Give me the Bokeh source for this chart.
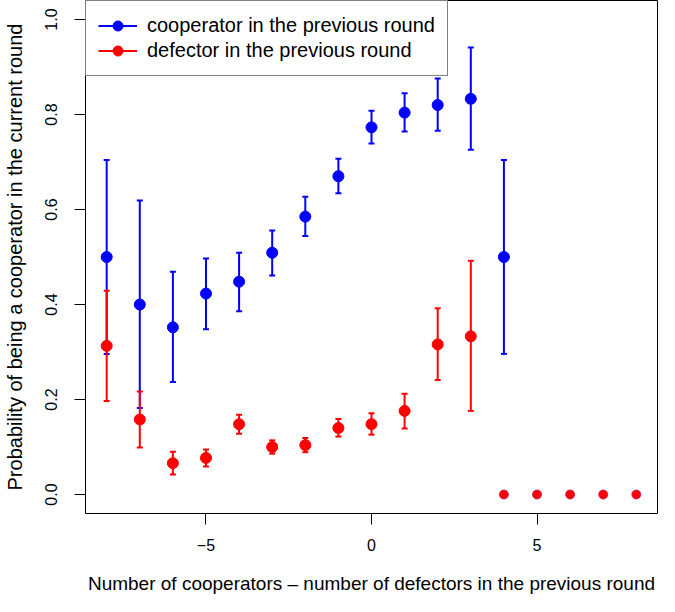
from bokeh.plotting import figure
from bokeh.models import (ColumnDataSource, Whisker, TeeHead, Legend, LegendItem,
                          FixedTicker, PrintfTickFormatter, Range1d)
from bokeh.embed import file_html
from bokeh.resources import INLINE

# ---- data ----
x_coop = [-8, -7, -6, -5, -4, -3, -2, -1, 0, 1, 2, 3, 4]
p_coop = [0.500, 0.400, 0.352, 0.423, 0.448, 0.509, 0.585, 0.670, 0.773, 0.804, 0.820, 0.833, 0.500]
lo_coop = [0.296, 0.182, 0.237, 0.348, 0.386, 0.461, 0.544, 0.634, 0.739, 0.764, 0.766, 0.726, 0.296]
hi_coop = [0.704, 0.619, 0.469, 0.497, 0.509, 0.556, 0.627, 0.707, 0.808, 0.845, 0.876, 0.941, 0.704]

x_def = [-8, -7, -6, -5, -4, -3, -2, -1, 0, 1, 2, 3]
p_def = [0.313, 0.158, 0.066, 0.077, 0.148, 0.100, 0.104, 0.140, 0.148, 0.176, 0.316, 0.333]
lo_def = [0.197, 0.099, 0.042, 0.059, 0.128, 0.086, 0.089, 0.122, 0.126, 0.139, 0.241, 0.176]
hi_def = [0.429, 0.217, 0.090, 0.095, 0.168, 0.114, 0.119, 0.159, 0.171, 0.212, 0.392, 0.492]

x_def_zero = [4, 5, 6, 7, 8]
p_def_zero = [0.0, 0.0, 0.0, 0.0, 0.0]

x_ticks = [-5, 0, 5]
y_ticks = [0.0, 0.2, 0.4, 0.6, 0.8, 1.0]

labels = ["cooperator in the previous round", "defector in the previous round"]
x_title = "Number of cooperators \u2013 number of defectors in the previous round"
y_title = "Probability of being a cooperator in the current round"

BLUE = "#0000FF"
RED = "#FF0000"
FONT = "Liberation Sans"
NAN = float("nan")

src_c = ColumnDataSource(dict(x=x_coop, p=p_coop, lo=lo_coop, hi=hi_coop))
src_d = ColumnDataSource(dict(x=x_def, p=p_def, lo=lo_def, hi=hi_def))
src_z = ColumnDataSource(dict(x=x_def_zero, p=p_def_zero))

p = figure(width=659, height=596, output_backend="svg", toolbar_location=None,
           x_range=Range1d(-8.64, 8.64), y_range=Range1d(-0.04, 1.04),
           min_border_left=75, min_border_right=2, min_border_top=0, min_border_bottom=82)
p.background_fill_color = "white"
p.border_fill_color = "white"
p.outline_line_color = "black"
p.outline_line_width = 1
p.xgrid.visible = False
p.ygrid.visible = False

# error bars
for src, col in ((src_c, BLUE), (src_d, RED)):
    w = Whisker(source=src, base="x", lower="lo", upper="hi", dimension="height",
                line_color=col, line_width=2,
                upper_head=TeeHead(size=6, line_color=col, line_width=2),
                lower_head=TeeHead(size=6, line_color=col, line_width=2))
    p.add_layout(w)

r_c = p.scatter("x", "p", source=src_c, size=11, color=BLUE)
r_d = p.scatter("x", "p", source=src_d, size=11, color=RED)
p.scatter("x", "p", source=src_z, size=9, fill_color=RED, line_color="#C0106A", line_width=0.8)

# legend glyph helpers (line through dot); they draw nothing in the plot area
l_c = p.line(x=[NAN], y=[NAN], line_color=BLUE, line_width=2)
l_d = p.line(x=[NAN], y=[NAN], line_color=RED, line_width=2)
legend = Legend(items=[LegendItem(label=labels[0], renderers=[l_c, r_c]),
                       LegendItem(label=labels[1], renderers=[l_d, r_d])],
                location="top_left", margin=0, padding=12, spacing=0,
                glyph_width=39, glyph_height=25, label_height=25, label_standoff=10,
                label_text_font=FONT, label_text_font_size="20px",
                label_text_color="black",
                border_line_color="black", border_line_width=1,
                background_fill_color="white", background_fill_alpha=1.0)
p.add_layout(legend)

# axes
p.xaxis.ticker = FixedTicker(ticks=x_ticks)
p.xaxis.major_label_overrides = {-5: "\u22125", 0: "0", 5: "5"}
p.yaxis.ticker = FixedTicker(ticks=y_ticks)
p.yaxis.formatter = PrintfTickFormatter(format="%.1f")
for ax in (p.xaxis[0], p.yaxis[0]):
    ax.axis_line_color = None
    ax.major_tick_line_color = "black"
    ax.major_tick_line_width = 1
    ax.major_tick_out = 11
    ax.major_tick_in = 0
    ax.minor_tick_line_color = None
    ax.major_label_text_font = FONT
    ax.major_label_text_font_size = "16px"
    ax.major_label_text_color = "black"
    ax.axis_label_text_font = FONT
    ax.axis_label_text_font_style = "normal"
    ax.axis_label_text_color = "black"
p.xaxis.axis_label = x_title
p.yaxis.axis_label = y_title
p.xaxis.axis_label_text_font_size = "19px"
p.yaxis.axis_label_text_font_size = "20px"
p.xaxis.major_label_standoff = 14
p.xaxis.axis_label_standoff = 19
p.yaxis.major_label_orientation = "vertical"
p.yaxis.major_label_standoff = 18
p.yaxis.axis_label_standoff = 16

open("out.html", "w").write(file_html(p, INLINE))
